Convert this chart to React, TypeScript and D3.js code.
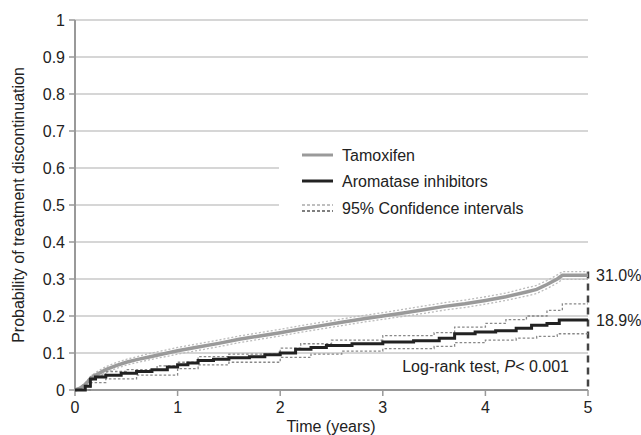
import React from "react";
import * as d3 from "d3";

const yTicks = [0, 0.1, 0.2, 0.3, 0.4, 0.5, 0.6, 0.7, 0.8, 0.9, 1];
const yTickLabels = ["0", "0.1", "0.2", "0.3", "0.4", "0.5", "0.6", "0.7", "0.8", "0.9", "1"];
const xTicks = [0, 1, 2, 3, 4, 5];

const tamT = [0, 0.05, 0.1, 0.15, 0.2, 0.3, 0.4, 0.5, 0.6, 0.7, 0.8, 0.9, 1.0, 1.2, 1.4, 1.6, 1.8, 2.0, 2.2, 2.4, 2.6, 2.8, 3.0, 3.2, 3.4, 3.6, 3.8, 4.0, 4.2, 4.4, 4.5, 4.6, 4.7, 4.75, 5.0];
const tamV = [0, 0.005, 0.015, 0.03, 0.04, 0.055, 0.066, 0.075, 0.082, 0.088, 0.094, 0.1, 0.106, 0.116, 0.126, 0.137, 0.146, 0.155, 0.165, 0.174, 0.183, 0.192, 0.2, 0.208, 0.217, 0.226, 0.233, 0.242, 0.252, 0.265, 0.272, 0.285, 0.3, 0.31, 0.31];
const tamUp = [0, 0.008, 0.02, 0.036, 0.047, 0.063, 0.074, 0.083, 0.09, 0.097, 0.103, 0.109, 0.115, 0.125, 0.135, 0.146, 0.155, 0.164, 0.174, 0.183, 0.192, 0.201, 0.209, 0.218, 0.227, 0.236, 0.243, 0.252, 0.262, 0.276, 0.283, 0.296, 0.311, 0.32, 0.32];
const tamLo = [0, 0.003, 0.01, 0.024, 0.033, 0.047, 0.058, 0.067, 0.074, 0.08, 0.086, 0.091, 0.097, 0.107, 0.117, 0.128, 0.137, 0.146, 0.156, 0.165, 0.174, 0.183, 0.191, 0.199, 0.207, 0.216, 0.223, 0.232, 0.242, 0.254, 0.261, 0.274, 0.289, 0.299, 0.299];

const aiT = [0, 0.1, 0.15, 0.2, 0.3, 0.45, 0.6, 0.75, 0.9, 1.0, 1.1, 1.2, 1.35, 1.5, 1.7, 1.85, 2.0, 2.15, 2.3, 2.45, 2.7, 3.0, 3.3, 3.55, 3.7, 3.9, 4.1, 4.3, 4.45, 4.6, 4.72, 5.0];
const aiV = [0, 0.01, 0.03, 0.035, 0.04, 0.045, 0.05, 0.055, 0.062, 0.068, 0.073, 0.08, 0.083, 0.087, 0.09, 0.095, 0.1, 0.11, 0.115, 0.12, 0.125, 0.13, 0.133, 0.14, 0.152, 0.157, 0.16, 0.167, 0.175, 0.18, 0.189, 0.189];

const aiUpT = [0, 0.15, 0.3, 0.5, 0.8, 1.0, 1.2, 1.5, 2.0, 2.2, 2.5, 3.0, 3.5, 3.7, 4.0, 4.2, 4.4, 4.6, 4.75, 5.0];
const aiUpV = [0, 0.04, 0.05, 0.055, 0.065, 0.075, 0.09, 0.097, 0.113, 0.125, 0.135, 0.147, 0.155, 0.17, 0.18, 0.19, 0.2, 0.215, 0.233, 0.233];
const aiLoT = [0, 0.15, 0.3, 0.6, 1.0, 1.2, 1.5, 2.0, 2.3, 2.6, 3.0, 3.5, 3.7, 4.0, 4.3, 4.5, 4.7, 5.0];
const aiLoV = [0, 0.02, 0.03, 0.04, 0.058, 0.068, 0.075, 0.088, 0.097, 0.105, 0.112, 0.118, 0.128, 0.135, 0.14, 0.145, 0.152, 0.152];

const legendItems = ["Tamoxifen", "Aromatase inhibitors", "95% Confidence intervals"];
const endLabels = ["31.0%", "18.9%"];
const endValues = [0.31, 0.189];

const W = 641, H = 435;
const x = d3.scaleLinear().domain([0, 5]).range([75, 588]);
const y = d3.scaleLinear().domain([0, 1]).range([390, 20]);
const font = "'Liberation Sans', Arial, sans-serif";
const FS = 16;

function pts(ts: number[], vs: number[]): [number, number][] {
  return ts.map((t, i) => [t, vs[i]]);
}
const stepLine = d3.line<[number, number]>().x(d => x(d[0])).y(d => y(d[1])).curve(d3.curveStepAfter);
const smoothLine = d3.line<[number, number]>().x(d => x(d[0])).y(d => y(d[1])).curve(d3.curveLinear);

export default function App() {
  return (
    <svg width={W} height={H} style={{ position: "absolute", left: 0, top: 0, background: "#fff" }} fontFamily={font}>
      <rect x={0} y={0} width={W} height={H} fill="#fff" />
      {yTicks.slice(1).map(v => (
        <line key={v} x1={x(0)} x2={x(5)} y1={y(v)} y2={y(v)} stroke="#c8c8c8" strokeWidth={1.5} />
      ))}
      {/* legend background hides gridlines */}
      <rect x={279} y={138} width={320} height={95} fill="#fff" />
      {/* y axis */}
      <line x1={x(0)} x2={x(0)} y1={y(0)} y2={y(1)} stroke="#999" strokeWidth={2} />
      {yTicks.map((v, i) => (
        <g key={v}>
          <line x1={x(0) - 6} x2={x(0)} y1={y(v)} y2={y(v)} stroke="#999" strokeWidth={1.5} />
          <text x={x(0) - 10} y={y(v)} dy="0.35em" textAnchor="end" fontSize={FS} fill="#222">{yTickLabels[i]}</text>
        </g>
      ))}
      {/* x axis */}
      <line x1={x(0)} x2={x(5)} y1={y(0)} y2={y(0)} stroke="#999" strokeWidth={2} />
      {xTicks.map(v => (
        <g key={v}>
          <line x1={x(v)} x2={x(v)} y1={y(0)} y2={y(0) + 6} stroke="#999" strokeWidth={1.5} />
          <text x={x(v)} y={y(0) + 23} textAnchor="middle" fontSize={FS} fill="#222">{v}</text>
        </g>
      ))}
      <text x={331} y={432} textAnchor="middle" fontSize={FS} fill="#222">Time (years)</text>
      <text transform={`translate(24,${y(0.5)}) rotate(-90)`} textAnchor="middle" fontSize={FS} fill="#222">Probability of treatment discontinuation</text>

      {/* vertical dashed line at 5 years */}
      <line x1={x(5)} x2={x(5)} y1={y(0.32)} y2={y(0)} stroke="#444" strokeWidth={2.5} strokeDasharray="7,5" />

      {/* confidence intervals */}
      <path d={smoothLine(pts(tamT, tamUp)) || ""} fill="none" stroke="#bbb" strokeWidth={1.3} strokeDasharray="2,2" />
      <path d={smoothLine(pts(tamT, tamLo)) || ""} fill="none" stroke="#bbb" strokeWidth={1.3} strokeDasharray="2,2" />
      <path d={stepLine(pts(aiUpT, aiUpV)) || ""} fill="none" stroke="#888" strokeWidth={1.3} strokeDasharray="2.5,2" />
      <path d={stepLine(pts(aiLoT, aiLoV)) || ""} fill="none" stroke="#888" strokeWidth={1.3} strokeDasharray="2.5,2" />

      {/* main curves */}
      <path d={smoothLine(pts(tamT, tamV)) || ""} fill="none" stroke="#9a9a9a" strokeWidth={3.5} />
      <path d={stepLine(pts(aiT, aiV)) || ""} fill="none" stroke="#222" strokeWidth={3} />

      {/* end labels */}
      {endLabels.map((l, i) => (
        <text key={l} x={596} y={y(endValues[i])} dy="0.35em" fontSize={FS} fill="#222">{l}</text>
      ))}

      <text x={569} y={372} textAnchor="end" fontSize={FS} fill="#222">
        Log-rank test, <tspan fontStyle="italic">P</tspan>{"< 0.001"}
      </text>

      {/* legend */}
      <line x1={302} x2={333} y1={155} y2={155} stroke="#9a9a9a" strokeWidth={3} />
      <line x1={302} x2={333} y1={181} y2={181} stroke="#222" strokeWidth={3} />
      <line x1={302} x2={333} y1={205} y2={205} stroke="#aaa" strokeWidth={1.3} strokeDasharray="3,2" />
      <line x1={302} x2={333} y1={211} y2={211} stroke="#555" strokeWidth={1.3} strokeDasharray="3,2" />
      {legendItems.map((l, i) => (
        <text key={l} x={342} y={[155, 181, 208][i]} dy="0.35em" fontSize={FS} fill="#222">{l}</text>
      ))}
    </svg>
  );
}
